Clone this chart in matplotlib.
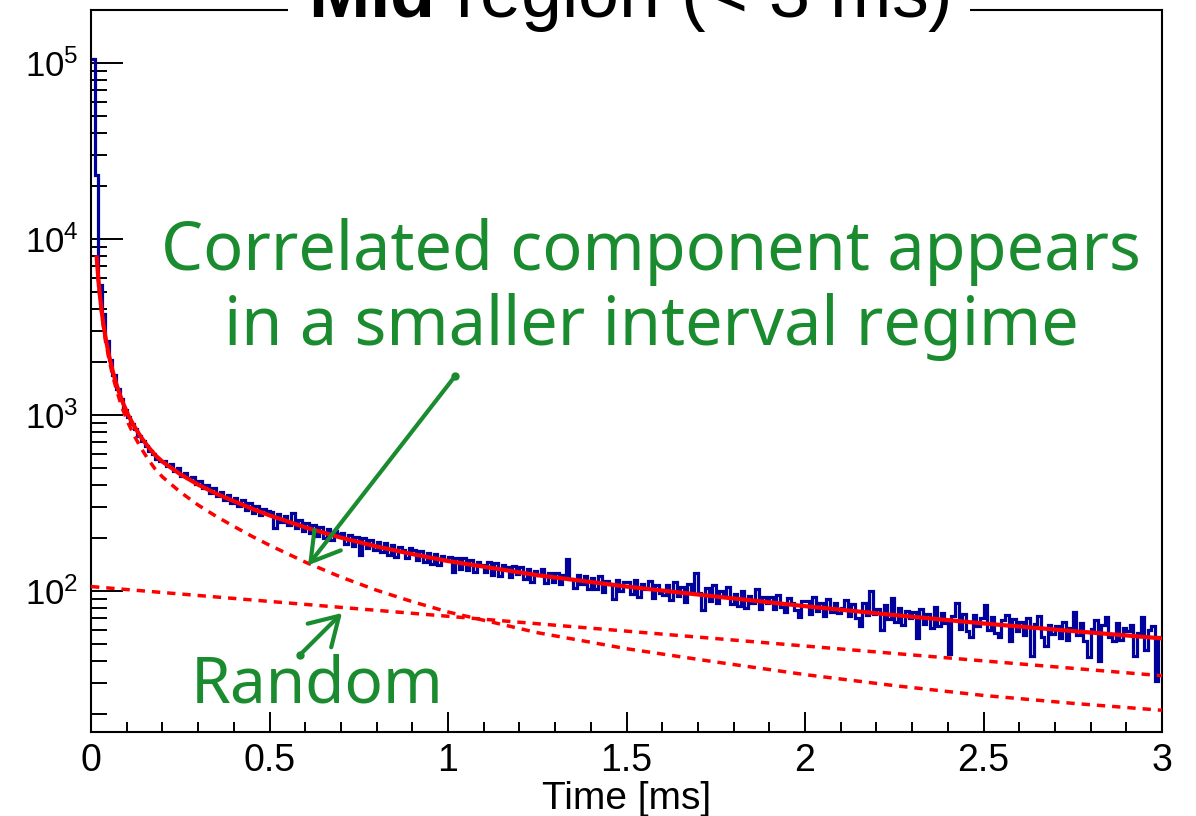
import matplotlib
matplotlib.use('agg')
import matplotlib.pyplot as plt
from matplotlib.patches import Rectangle
from matplotlib.ticker import LogLocator, MultipleLocator, NullFormatter
import numpy as np

plt.rcParams['font.family'] = ['Liberation Sans', 'DejaVu Sans']
plt.rcParams['mathtext.fontset'] = 'custom'
plt.rcParams['mathtext.rm'] = 'Liberation Sans'
plt.rcParams['mathtext.bf'] = 'Liberation Sans:bold'

# interval histogram, 0.01 ms bins from 0 to 3 ms (one row = 0.1 ms)
counts = [
    105000, 23000, 5500, 3750, 2640, 2060, 1690, 1410, 1230, 1070,
    980, 885, 838, 760, 716, 668, 628, 600, 561, 548,
    548, 510, 529, 481, 497, 452, 471, 441, 446, 405,
    421, 384, 402, 361, 385, 348, 366, 331, 351, 318,
    339, 303, 327, 290, 316, 279, 303, 270, 292, 285,
    281, 228, 274, 247, 266, 236, 277, 229, 252, 219,
    243, 213, 236, 205, 231, 201, 226, 196, 219, 211,
    214, 186, 207, 181, 203, 160, 199, 176, 195, 172,
    190, 166, 187, 160, 182, 157, 179, 171, 154, 175,
    172, 150, 168, 146, 165, 143, 162, 140, 158, 151,
    157, 128, 154, 134, 153, 131, 150, 129, 147, 140,
    129, 147, 124, 144, 122, 141, 137, 120, 139, 125,
    136, 117, 133, 113, 130, 124, 134, 111, 127, 113,
    126, 110, 124, 152, 117, 104, 124, 109, 121, 103,
    118, 103, 121, 99, 114, 109, 90, 116, 100, 112,
    113, 96, 116, 93, 109, 102, 114, 91, 108, 97,
    95, 108, 89, 112, 94, 105, 87, 110, 99, 126,
    97, 78, 104, 88, 108, 85, 100, 92, 106, 84,
    96, 82, 100, 80, 94, 86, 103, 79, 93, 85,
    92, 79, 95, 81, 76, 91, 85, 78, 71, 88,
    88, 74, 92, 77, 86, 72, 90, 76, 85, 75,
    80, 89, 72, 84, 70, 63, 86, 73, 100, 74,
    79, 60, 83, 69, 91, 67, 80, 64, 77, 70,
    76, 54, 79, 65, 74, 62, 81, 63, 75, 66,
    44, 72, 85, 61, 74, 59, 55, 73, 63, 70,
    83, 60, 71, 58, 55, 68, 73, 52, 69, 59,
    67, 56, 70, 43, 65, 72, 55, 49, 64, 57,
    63, 54, 67, 53, 62, 76, 56, 66, 52, 42,
    61, 68, 40, 64, 71, 55, 52, 66, 53, 62,
    59, 64, 43, 58, 71, 46, 60, 63, 31, 55,
]

# fit result: total and correlated part, sampled along the time axis [ms]
fit_time = [0.016, 0.02, 0.025, 0.03, 0.035, 0.04, 0.05, 0.06, 0.07, 0.08,
            0.09, 0.104, 0.12, 0.14, 0.16, 0.18, 0.2, 0.25, 0.3, 0.35,
            0.4, 0.45, 0.5, 0.6, 0.7, 0.8, 0.9, 1.0, 1.25, 1.5,
            1.75, 2.0, 2.25, 2.5, 2.75, 3.0]
fit_total = [7860, 6100, 4740, 3865, 3255, 2805, 2195, 1800, 1520, 1320,
             1165, 1000, 870, 749, 660, 591, 543, 461, 402, 358,
             324, 294, 269, 230, 201, 179, 162, 148, 123, 106,
             93, 82, 73, 65.4, 59.2, 53.8]
fit_correlated = [7750, 5990, 4635, 3760, 3150, 2700, 2090, 1695, 1419, 1217,
                  1063, 900, 769, 649, 560, 492, 445, 365, 308, 266,
                  233, 205, 182, 146, 120, 101, 87, 76, 58, 47,
                  39.5, 33.5, 29, 25.5, 23, 21]

# random component is a single exponential
random_time = [0.0, 3.0]
random_level = [106, 33]

GREEN = '#1a8b2e'
BLUE = '#00009c'
RED = '#ff0000'


def generate_plot(out_file: str):
    fig = plt.figure(figsize=(11.96, 8.16), dpi=100)
    ax = fig.add_axes([0.0761, 0.1029, 0.8955, 0.8848])

    edges = np.linspace(0.0, 3.0, len(counts) + 1)
    ax.stairs(counts, edges, baseline=None, color=BLUE, linewidth=2.3, zorder=2)

    ax.plot(fit_time, fit_total, color=RED, linewidth=3.0, zorder=4)
    ax.plot(fit_time, fit_correlated, color=RED, linewidth=2.5,
            linestyle=(0, (2.4, 2.0)), zorder=3)
    ax.plot(random_time, random_level, color=RED, linewidth=2.5,
            linestyle=(0, (2.4, 2.0)), zorder=3)

    ax.set_yscale('log')
    ax.set_xlim(0, 3)
    ax.set_ylim(15.8, 2.0e5)

    ax.xaxis.set_major_locator(MultipleLocator(0.5))
    ax.xaxis.set_minor_locator(MultipleLocator(0.1))
    ax.xaxis.set_major_formatter(plt.FuncFormatter(lambda v, p: '{:g}'.format(v)))
    ax.yaxis.set_major_locator(LogLocator(base=10))
    ax.yaxis.set_minor_locator(LogLocator(base=10, subs=range(2, 10)))
    ax.yaxis.set_minor_formatter(NullFormatter())

    ax.tick_params(axis='both', which='both', direction='in', width=1.4,
                   top=False, right=False)
    ax.tick_params(axis='x', which='major', length=14.4, pad=8, labelsize=27)
    ax.tick_params(axis='x', which='minor', length=7.2)
    ax.tick_params(axis='y', which='major', length=23, pad=9, labelsize=25)
    ax.tick_params(axis='y', which='minor', length=11.5)
    for spine in ax.spines.values():
        spine.set_linewidth(1.5)

    ax.set_xlabel('Time [ms]', fontsize=28, labelpad=1)

    # title box sitting on the upper frame line
    fig.add_artist(Rectangle((288 / 1196, 1 - 16 / 816), (970 - 288) / 1196,
                             16 / 816, transform=fig.transFigure,
                             facecolor='white', edgecolor='none', zorder=2))
    fig.text(0.526, 1 - 17 / 816, r'$\mathbf{Mid}$ region (< 3 ms)',
             fontsize=53, ha='center', va='baseline', zorder=3)

    ax.text(1.569, 6670, 'Correlated component appears', color=GREEN,
            family='Noto Sans', fontsize=48, ha='center', va='baseline', zorder=6)
    ax.text(1.569, 2500, 'in a smaller interval regime', color=GREEN,
            family='Noto Sans', fontsize=48, ha='center', va='baseline', zorder=6)
    ax.text(0.633, 23.4, 'Random', color=GREEN, family='Noto Sans',
            fontsize=46, ha='center', va='baseline', zorder=6)

    arrow_style = dict(arrowstyle='->, head_length=1.0, head_width=0.6',
                       color=GREEN, linewidth=3, mutation_scale=20,
                       shrinkA=0, shrinkB=0, capstyle='round', joinstyle='round')
    ax.annotate('', xy=(0.608, 140), xytext=(1.020, 1666),
                arrowprops=arrow_style, zorder=6)
    ax.annotate('', xy=(0.703, 75), xytext=(0.585, 43.3),
                arrowprops=arrow_style, zorder=6)
    ax.plot([1.020, 0.585], [1666, 43.3], 'o', color=GREEN, markersize=5,
            zorder=6)

    fig.savefig(out_file, dpi=100)
    plt.close(fig)


def main():
    generate_plot('out.png')


if __name__ == '__main__':
    main()
